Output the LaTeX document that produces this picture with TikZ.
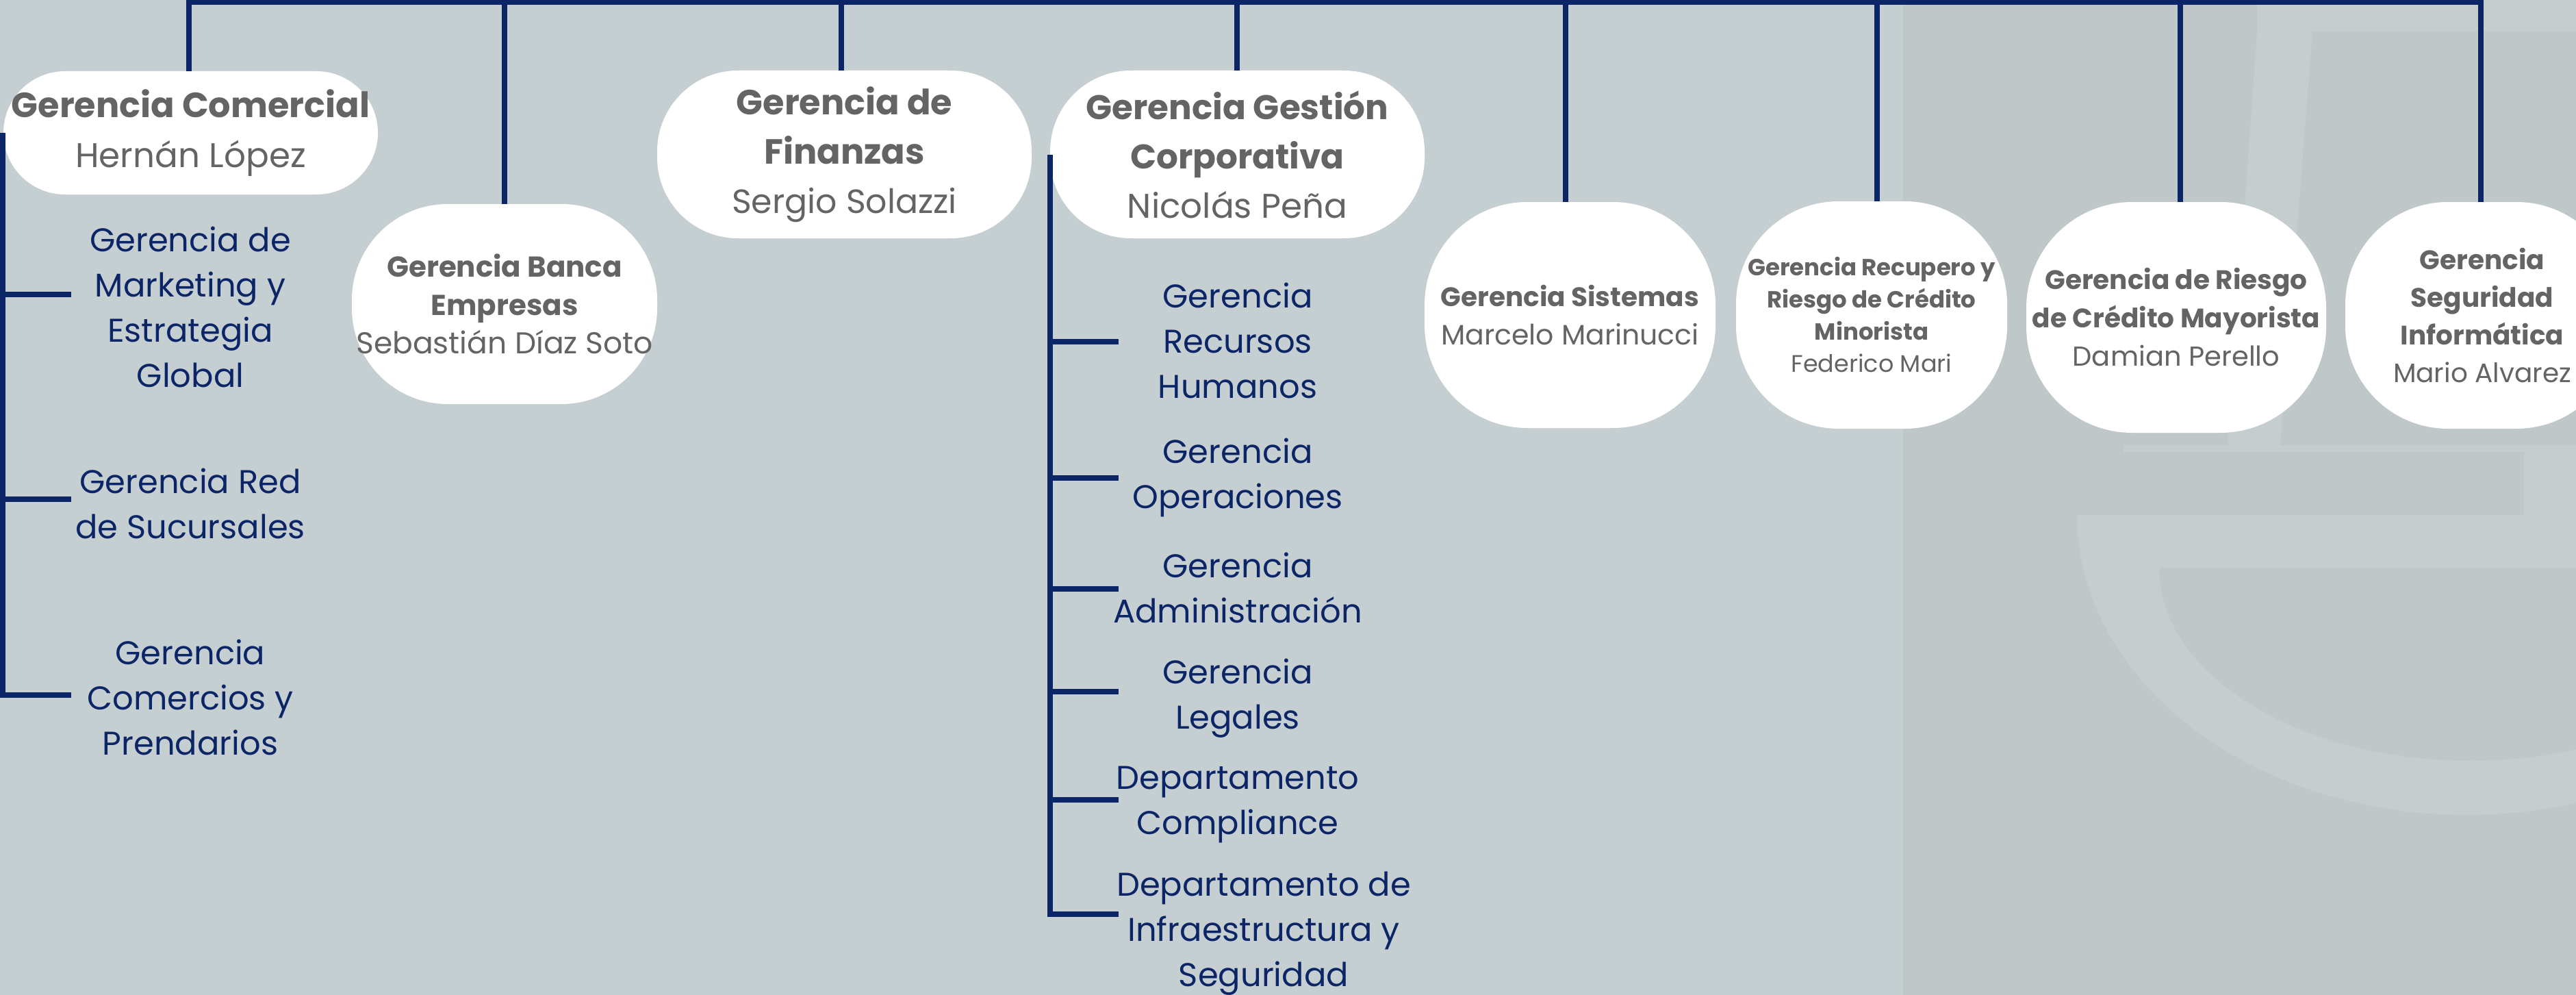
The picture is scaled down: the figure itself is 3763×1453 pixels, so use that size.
\documentclass[tikz,border=0pt]{standalone}
\usepackage{fontspec}
\setmainfont{Poppins}
\definecolor{bg}{HTML}{C5CED0}
\definecolor{panel}{HTML}{BFC7C9}
\definecolor{wm}{HTML}{C5CDCF}
\definecolor{navy}{HTML}{0B2566}
\definecolor{txtgray}{HTML}{646464}
\tikzset{
  box/.style={fill=white, draw=none, inner sep=0pt, align=center, text=txtgray},
  con/.style={draw=navy, line width=7.5pt, line join=miter},
  sub/.style={text=navy, align=center, inner sep=0pt, font=\fontsize{48}{66}\selectfont},
}
\begin{document}
\begin{tikzpicture}[x=1pt,y=-1pt]
\useasboundingbox (0,0) rectangle (3763,1453);
\clip (0,0) rectangle (3763,1453);
\fill[bg] (0,0) rectangle (3763,1453);
% watermark panel
\fill[panel] (2780,0) rectangle (3763,1453);
\fill[wm] (3297,0) rectangle (3763,46);
\fill[wm] (3297,46) -- (3378,46) -- (3331,650) -- (3254,650) -- cycle;
\fill[wm] (3102,650) rectangle (3763,660);
\fill[wm] (3687,660) rectangle (3763,752);
\fill[wm] (3034,752) arc[start angle=180, end angle=0, x radius=569, y radius=438] -- cycle;
\fill[panel] (3154,829) arc[start angle=180, end angle=0, x radius=455, y radius=282] -- cycle;

% main boxes
\node[box, rounded corners=90pt, minimum width=547pt, minimum height=180pt, font=\fontsize{51}{73}\selectfont]
  (com) at (278.5,194) {\textbf{Gerencia Comercial}\\{\fontsize{50}{73}\selectfont Hernán López}};
\node[box, rounded corners=140pt, minimum width=446pt, minimum height=292pt, font=\fontsize{42}{56}\selectfont]
  (ban) at (737,444) {\textbf{Gerencia Banca}\\\textbf{Empresas}\\{\fontsize{44}{56}\selectfont Sebastián Díaz Soto}};
\node[box, rounded corners=118pt, minimum width=547pt, minimum height=245pt, font=\fontsize{51}{72}\selectfont]
  (fin) at (1233.5,225.5) {\textbf{Gerencia de}\\\textbf{Finanzas}\\{\fontsize{49}{72}\selectfont Sergio Solazzi}};
\node[box, rounded corners=118pt, minimum width=547pt, minimum height=245pt, font=\fontsize{50}{72}\selectfont]
  (ges) at (1807.5,225.5) {\textbf{Gerencia Gestión}\\\textbf{Corporativa}\\{\fontsize{50}{72}\selectfont Nicolás Peña}};
\node[box, rounded corners=150pt, minimum width=425pt, minimum height=330pt, font=\fontsize{39}{56}\selectfont]
  (sis) at (2293.5,460) {\textbf{Gerencia Sistemas}\\{\fontsize{41}{56}\selectfont Marcelo Marinucci}};
\node[box, rounded corners=150pt, minimum width=396pt, minimum height=332pt, font=\fontsize{34}{47}\selectfont]
  (rec) at (2734,460) {\textbf{Gerencia Recupero y}\\\textbf{Riesgo de Crédito}\\\textbf{Minorista}\\{\fontsize{35}{47}\selectfont Federico Mari}};
\node[box, rounded corners=155pt, minimum width=438pt, minimum height=337pt, font=\fontsize{39}{56}\selectfont]
  (rie) at (3179,463.5) {\textbf{Gerencia de Riesgo}\\\textbf{de Crédito Mayorista}\\{\fontsize{40}{56}\selectfont Damian Perello}};
\node[box, rounded corners=150pt, minimum width=400pt, minimum height=331pt, font=\fontsize{39}{55}\selectfont]
  (seg) at (3626,460.5) {\textbf{Gerencia}\\\textbf{Seguridad}\\\textbf{Informática}\\{\fontsize{39}{55}\selectfont Mario Alvarez}};

% sub units
\node[sub] (mk) at (278,448) {Gerencia de\\Marketing y\\Estrategia\\Global};
\node[sub] (red) at (278,735) {Gerencia Red\\de Sucursales};
\node[sub] (cp) at (278,1018) {Gerencia\\Comercios y\\Prendarios};
\node[sub] (rh) at (1808,497) {Gerencia\\Recursos\\Humanos};
\node[sub] (op) at (1808,697) {Gerencia\\Operaciones};
\node[sub] (ad) at (1808,858) {Gerencia\\Administración};
\node[sub] (le) at (1808,1020) {Gerencia\\Legales};
\node[sub] (co) at (1808,1175) {Departamento\\Compliance};
\node[sub] (inf) at (1846,1363) {Departamento de\\Infraestructura y\\Seguridad};

% top bus
\coordinate (t1) at (276,3);
\coordinate (t2) at (737,3);
\coordinate (t3) at (1229,3);
\coordinate (t4) at (1807,3);
\coordinate (t5) at (2287,3);
\coordinate (t6) at (2742,3);
\coordinate (t7) at (3185,3);
\coordinate (t8) at (3624,3);
\draw[con] (t1 |- com.north) -- (t1) -- (t8) -- (t8 |- seg.north);
\draw[con] (t2) -- (t2 |- ban.north);
\draw[con] (t3) -- (t3 |- fin.north);
\draw[con] (t4) -- (t4 |- ges.north);
\draw[con] (t5) -- (t5 |- sis.north);
\draw[con] (t6) -- (t6 |- rec.north);
\draw[con] (t7) -- (t7 |- rie.north);

% branch ends
\coordinate (b1) at (104,430);
\coordinate (b2) at (104,729);
\coordinate (b3) at (104,1015);
\coordinate (c1) at (1634,499);
\coordinate (c2) at (1634,698);
\coordinate (c3) at (1634,860);
\coordinate (c4) at (1634,1010);
\coordinate (c5) at (1634,1168);
\coordinate (c6) at (1634,1335);
\coordinate (vc) at (4,0);
\coordinate (vg) at (1534,0);
\draw[con] (vc |- com.west) -- (vc |- b3) -- (b3);
\draw[con] (vc |- b1) -- (b1);
\draw[con] (vc |- b2) -- (b2);
\draw[con] (vg |- ges.west) -- (vg |- c6) -- (c6);
\draw[con] (vg |- c1) -- (c1);
\draw[con] (vg |- c2) -- (c2);
\draw[con] (vg |- c3) -- (c3);
\draw[con] (vg |- c4) -- (c4);
\draw[con] (vg |- c5) -- (c5);
\end{tikzpicture}
\end{document}
